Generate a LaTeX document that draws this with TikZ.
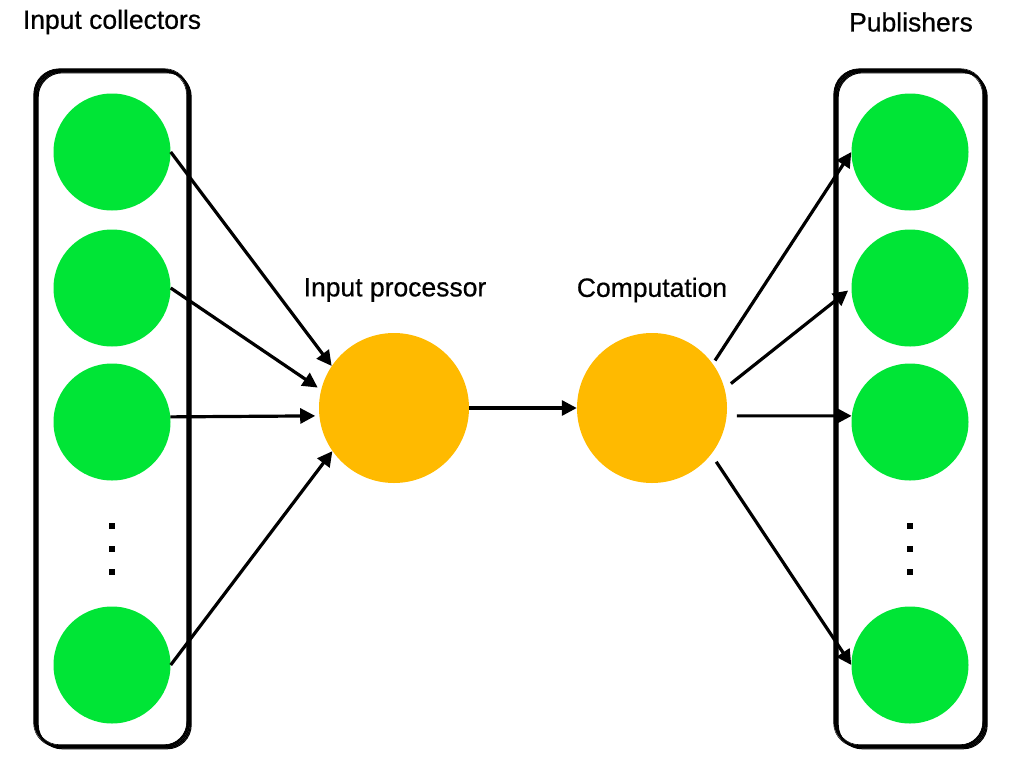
\documentclass[tikz,border=0pt]{standalone}
\usepackage{fontspec}
\setmainfont{Liberation Sans}
\newfontfamily\lblfont[FakeBold=0.6]{Liberation Sans}
\usepackage{tikz}
\usetikzlibrary{arrows.meta}
\definecolor{unitgreen}{RGB}{0,229,54}
\definecolor{procorange}{RGB}{255,186,0}
\tikzset{
  unit/.style={shape=circle, fill=unitgreen, minimum size=117pt, inner sep=0pt},
  proc/.style={shape=circle, fill=procorange, minimum size=150pt, inner sep=0pt},
  lbl/.style={font=\lblfont\fontsize{26.5}{31}\selectfont, inner sep=0pt},
  arr/.style={line width=3.2pt, -{Triangle[length=15pt,width=15pt]}},
  dotmark/.style={shape=rectangle, fill=black, minimum size=6.5pt, inner sep=0pt},
  sketchbox/.style={rounded corners=24pt, line cap=round, line join=round}
}
\begin{document}
\begin{tikzpicture}[x=1pt, y=-1pt]
        \useasboundingbox (0,0) rectangle (1020,758);
        % hand drawn group boxes
        \foreach \dx/\dy/\w in {0/0/2.0, 1.3/1.1/1.6, 2.4/2.0/1.4, 3.2/2.8/1.0, -0.9/-0.7/0.7, 0.5/-1.3/0.6, -1.4/0.8/0.5} {
            \draw[sketchbox, line width=\w pt] ({35+\dx},{70+\dy}) rectangle ({188+\dx},{746+\dy});
            \draw[sketchbox, line width=\w pt] ({835+\dx},{70+\dy}) rectangle ({984+\dx},{746+\dy});
        }
        \node[lbl] (tc) at (112,22) {Input collectors};
        \node[lbl] (tp) at (911,22) {Publishers};
        \node[lbl] (tip) at (395,290) {Input processor};
        \node[lbl] (tcp) at (652,290) {Computation};
        \node[unit] (c1) at (112,152) {};
        \node[unit] (c2) at (112,288) {};
        \node[unit] (c3) at (112,422) {};
        \node[unit] (c4) at (112,665) {};
        \node[unit] (p1) at (910,152) {};
        \node[unit] (p2) at (910,288) {};
        \node[unit] (p3) at (910,422) {};
        \node[unit] (p4) at (910,665) {};
        \foreach \y in {526,549,572} {
            \node[dotmark] (dc\y) at (112,\y) {};
            \node[dotmark] (dp\y) at (910,\y) {};
        }
        \node[proc] (ip) at (394,408) {};
        \node[proc] (cp) at (652,408) {};
        \draw[arr] (c1.east) -- (ip.146);
        \draw[arr, shorten >=4pt] (c2.east) -- (ip.166);
        \draw[arr, shorten >=4pt] (c3.5) -- (ip.186);
        \draw[arr] (c4.east) -- (ip.215);
        \draw[arr] (ip.east) -- (cp.west);
        \draw[arr, shorten <=4pt] (cp.36) -- (p1.west);
        \draw[arr, shorten <=8pt, shorten >=4pt] (cp.15) -- (p2.west);
        \draw[arr, shorten <=10pt] (cp.-6) -- (p3.174);
        \draw[arr, shorten <=9pt] (cp.-38) -- (p4.west);
\end{tikzpicture}
\end{document}
